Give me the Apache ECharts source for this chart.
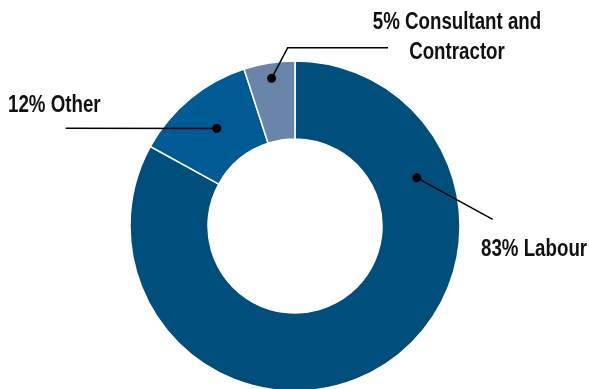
<!DOCTYPE html>
<html><head><meta charset="utf-8">
<script src="https://cdn.jsdelivr.net/npm/echarts@6/dist/echarts.min.js"></script>
<style>html,body{margin:0;padding:0;background:#fff}#chart{width:589px;height:389px}</style>
</head><body><div id="chart"></div>
<script>
// Spending breakdown (share of total, %)
const categories = ['Labour', 'Other', 'Consultant and Contractor'];
const shares = [83, 12, 5];
const labelNames = ['Labour', 'Other', 'Consultant and\nContractor'];
const sliceColors = ['#004e7c', '#005b95', '#6a85aa'];

// ring geometry
const CX = 295, CY = 226, R_OUT = 165, R_IN = 87;
// callout dot: fraction along each slice's sweep and distance from the centre
const dotSpots = [{ t: 0.229, r: 131 }, { t: 0.52, r: 125 }, { t: 0.5, r: 149.5 }];
// callout line points after the dot, and label anchors
const callouts = [
  { line: [[492.7, 219.3]], text: [481, 249], align: 'left' },
  { line: [[65.7, 128.3]], text: [8, 105], align: 'left' },
  { line: [[287.7, 47.7], [388, 47.7]], text: [457, 37], align: 'center' }
];

const total = shares.reduce((a, b) => a + b, 0);
let acc = 0;
const dots = shares.map((v, i) => {
  const a0 = acc / total * 360;
  const a1 = (acc + v) / total * 360;
  acc += v;
  const ang = (a0 + (a1 - a0) * dotSpots[i].t) * Math.PI / 180;
  return [CX + dotSpots[i].r * Math.sin(ang), CY - dotSpots[i].r * Math.cos(ang)];
});

const FONT = "'Liberation Sans', Arial, sans-serif";
const NARROW = 0.78; // horizontal squeeze for a condensed look

const graphics = [];
callouts.forEach((c, i) => {
  graphics.push({
    type: 'polyline', z: 100,
    shape: { points: [dots[i]].concat(c.line) },
    style: { stroke: '#000000', lineWidth: 1.5, fill: null }
  });
  graphics.push({
    type: 'circle', z: 101,
    shape: { cx: dots[i][0], cy: dots[i][1], r: 4.5 },
    style: { fill: '#000000' }
  });
  graphics.push({
    type: 'text', z: 101,
    x: c.text[0], y: c.text[1], scaleX: NARROW,
    style: {
      text: shares[i] + '% ' + labelNames[i],
      fontFamily: FONT, fontWeight: 'bold', fontSize: 24, lineHeight: 30,
      fill: '#111111', align: c.align, verticalAlign: 'middle'
    }
  });
});

const chart = echarts.init(document.getElementById('chart'), null, { renderer: 'canvas' });
chart.setOption({
  backgroundColor: '#ffffff',
  animation: false,
  series: [{
    type: 'pie',
    center: [CX, CY],
    radius: [R_IN, R_OUT],
    startAngle: 90,
    clockwise: true,
    itemStyle: { borderColor: '#ffffff', borderWidth: 1.5 },
    emphasis: { disabled: true },
    label: { show: false },
    labelLine: { show: false },
    data: categories.map((name, i) => ({
      name, value: shares[i], itemStyle: { color: sliceColors[i] }
    }))
  }],
  graphic: graphics
});
</script></body></html>
